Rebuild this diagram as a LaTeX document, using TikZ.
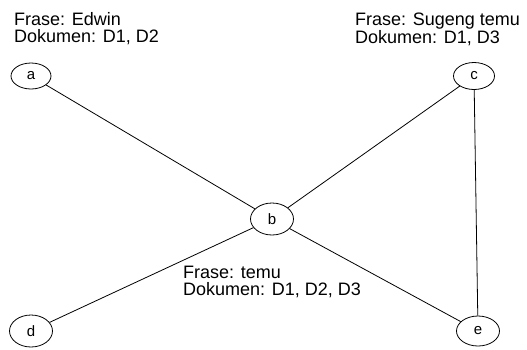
\documentclass[tikz,border=0pt]{standalone}
\usepackage{fontspec}
\setmainfont{Liberation Sans}
\usetikzlibrary{shapes.geometric}
\begin{document}
\begin{tikzpicture}[x=1pt,y=-1pt,
  vert/.style={draw, ellipse, inner sep=0pt, line width=0.8pt, font=\fontsize{15}{17}\selectfont},
  info/.style={anchor=north west, inner sep=0pt, align=left, font=\fontsize{18}{16.7}\selectfont},
  edge/.style={line width=0.8pt}]
\useasboundingbox[fill=white] (0,0) rectangle (527,349);
\node[vert, minimum width=40pt, minimum height=26pt] (a) at (31,76) {a};
\node[vert, minimum width=41pt, minimum height=27pt] (c) at (474,76) {c};
\node[vert, minimum width=43pt, minimum height=32pt] (b) at (272,219) {b};
\node[vert, minimum width=43pt, minimum height=32pt] (d) at (31,331) {d};
\node[vert, minimum width=43pt, minimum height=30pt] (e) at (478,331) {e};
\draw[edge] (a) -- (b);
\draw[edge] (c) -- (b);
\draw[edge] (d) -- (b);
\draw[edge] (b) -- (e);
\draw[edge] (c) -- (e);
\node[info] (t1) at (14,12.5) {Frase: Edwin\\Dokumen: D1, D2};
\node[info] (t2) at (355,12.5) {Frase: Sugeng temu\\Dokumen: D1, D3};
\node[info] (t3) at (183,266) {Frase: temu\\Dokumen: D1, D2, D3};
\end{tikzpicture}
\end{document}
